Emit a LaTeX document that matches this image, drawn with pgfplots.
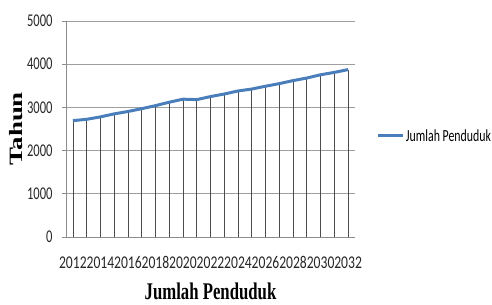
\documentclass[border=0pt]{standalone}
\usepackage{fontspec}
\usepackage{graphicx}
\usepackage{pgfplots}
\usepackage{pgfplotstable}
\pgfplotsset{compat=1.18}
\newfontfamily\calib[FakeStretch=0.7]{Carlito}
\newfontfamily\calibx[FakeStretch=0.76]{Carlito}
\newfontfamily\timesc[FakeStretch=0.7]{Liberation Serif}
\newfontfamily\timesn{Liberation Serif}
\definecolor{exblue}{RGB}{74,126,187}
\pgfplotstableread{
year val
2012 2693
2013 2724
2014 2780
2015 2850
2016 2905
2017 2970
2018 3040
2019 3120
2020 3190
2021 3180
2022 3250
2023 3310
2024 3380
2025 3425
2026 3490
2027 3550
2028 3620
2029 3680
2030 3755
2031 3810
2032 3875
}\datatable
\begin{document}
\begin{tikzpicture}
\begin{axis}[
  scale only axis, width=289bp, height=216bp,
  clip=false,
  xmin=2011.5, xmax=2032.5, ymin=0, ymax=5000,
  xtick={2012,2014,...,2032}, ytick={0,1000,...,5000},
  axis x line*=bottom, axis y line*=left,
  axis line style={-, color=gray!90, line width=0.7pt},
  ymajorgrids, grid style={gray!75, line width=0.7pt},
  xtick style={draw=none},
  ytick style={color=gray!90, line width=0.7pt},
  tick align=outside, major tick length=4bp,
  /pgf/number format/assume math mode=true,
  /pgf/number format/set thousands separator={},
  ticklabel style={font=\calib\fontsize{18}{18}\selectfont, color=black!85},
  yticklabel style={xshift=-6bp},
  xticklabel style={yshift=-12bp, font=\calibx\fontsize{18}{18}\selectfont, inner xsep=0pt},
  xlabel={\timesc\bfseries\fontsize{24}{24}\selectfont Jumlah Penduduk},
  every axis x label/.style={at={(axis description cs:0.5,-0.25)}, anchor=center},
  ylabel={\scalebox{1}[0.7]{\timesn\bfseries\fontsize{27}{27}\selectfont Tahun}},
  every axis y label/.style={at={(axis description cs:-0.173,0.5)}, rotate=90, anchor=center},
  legend style={at={(rel axis cs:1.075,0.468)}, anchor=west, draw=none, fill=none,
    font=\calib\fontsize{17}{17}\selectfont, inner sep=0pt,
    nodes={inner sep=1bp}},
  legend image code/.code={\draw[#1] (0bp,0bp) -- (25bp,0bp);},
]
\addplot[ycomb, color=black!70, line width=0.7pt, forget plot] table[x=year, y=val] {\datatable};
\addplot[color=exblue, line width=3pt, line join=round] table[x=year, y=val] {\datatable};
\addlegendentry{Jumlah Penduduk}
\path (rel axis cs:-0.2284,-0.3148) (rel axis cs:1.474,1.0972);
\end{axis}
\end{tikzpicture}
\end{document}
